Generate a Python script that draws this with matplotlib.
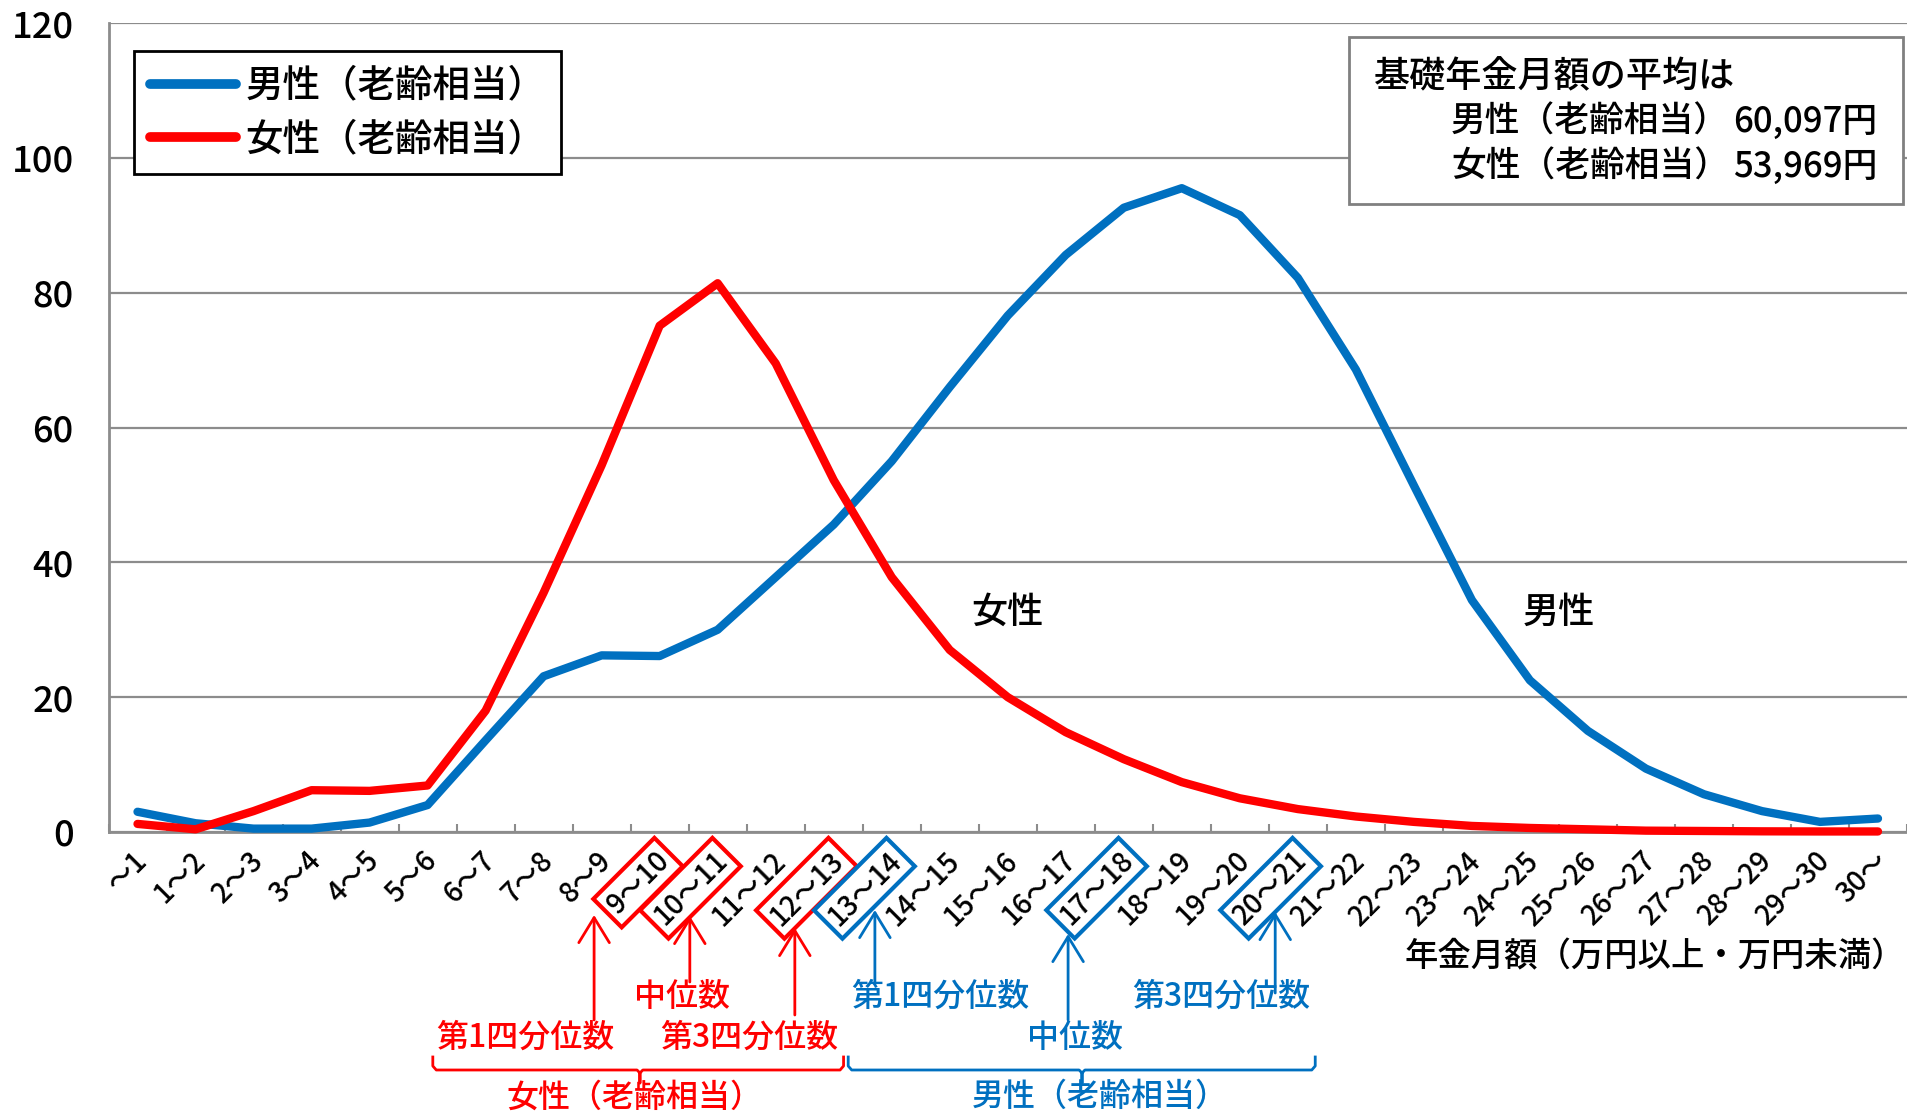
# -*- coding: UTF-8 -*-
# 基礎年金月額の分布（男性・女性 老齢相当）
import numpy as np
import matplotlib.pyplot as plt
import matplotlib.transforms as mtransforms
from matplotlib.patches import Rectangle

plt.rcParams['font.family'] = ['Noto Sans CJK JP', 'DejaVu Sans']
plt.rcParams['font.weight'] = 'medium'

# ---- data -------------------------------------------------------------
labels = ['～1', '1～2', '2～3', '3～4', '4～5', '5～6', '6～7', '7～8', '8～9',
          '9～10', '10～11', '11～12', '12～13', '13～14', '14～15', '15～16',
          '16～17', '17～18', '18～19', '19～20', '20～21', '21～22', '22～23',
          '23～24', '24～25', '25～26', '26～27', '27～28', '28～29', '29～30',
          '30～']

male = [3.0, 1.3, 0.5, 0.5, 1.4, 4.0, 13.6, 23.1, 26.2, 26.1, 30.0,
        37.8, 45.6, 55.0, 66.0, 76.6, 85.6, 92.6, 95.5, 91.5, 82.2,
        68.6, 51.4, 34.4, 22.5, 15.0, 9.4, 5.6, 3.1, 1.5, 2.0]

female = [1.2, 0.4, 3.1, 6.2, 6.1, 6.9, 18.0, 35.5, 54.4, 75.1, 81.4,
          69.5, 52.2, 37.8, 27.0, 20.0, 14.8, 10.8, 7.4, 5.0, 3.4,
          2.3, 1.5, 0.9, 0.6, 0.4, 0.2, 0.15, 0.1, 0.08, 0.08]

male_name = '男性（老齢相当）'
female_name = '女性（老齢相当）'
male_avg = '60,097円'
female_avg = '53,969円'

female_box = [9, 10, 12]     # 第1四分位・中位・第3四分位
male_box = [13, 17, 20]

BLUE = '#0070C0'
RED = '#FF0000'
GRAY = '#8c8c8c'

W, H = 1907, 1112


def fy(py):
    '画素のy座標 -> figure fraction'
    return 1 - py / H


fig = plt.figure(figsize=(W / 100, H / 100), dpi=100)
ax = fig.add_axes([108.5 / W, fy(832), (W - 108.5) / W, (832 - 23) / H])

x = np.arange(len(labels))
ax.plot(x, male, color=BLUE, lw=6, label=male_name,
        solid_capstyle='round', solid_joinstyle='round', clip_on=False,
        zorder=3)
ax.plot(x, female, color=RED, lw=6, label=female_name,
        solid_capstyle='round', solid_joinstyle='round', clip_on=False,
        zorder=3)

ax.set_xlim(-0.5, len(labels) - 0.5)
ax.set_ylim(0, 120)
ax.set_yticks(range(0, 121, 20))
ax.yaxis.grid(True, color=GRAY, lw=1.6)
ax.set_axisbelow(True)
ax.tick_params(axis='y', length=0, pad=25, labelsize=26)
ax.set_xticks(np.arange(-0.5, len(labels), 1))
ax.tick_params(axis='x', direction='in', length=6, width=1.5,
               color=GRAY, labelbottom=False)
for s in ['top', 'right']:
    ax.spines[s].set_visible(False)
for s in ['left', 'bottom']:
    ax.spines[s].set_color(GRAY)
    ax.spines[s].set_linewidth(2)

# x 軸ラベル（45度回転）
trans = mtransforms.blended_transform_factory(ax.transData, ax.transAxes)
off = mtransforms.ScaledTranslation(0.05, -0.24, fig.dpi_scale_trans)
for i, lab in enumerate(labels):
    t = ax.text(i, 0, lab, transform=trans + off, rotation=45,
                rotation_mode='anchor', ha='right', va='center',
                fontsize=20, clip_on=False)
    if i in female_box:
        t.set_bbox(dict(boxstyle='square,pad=0.2', fc='none', ec=RED, lw=3))
    if i in male_box:
        t.set_bbox(dict(boxstyle='square,pad=0.2', fc='none', ec=BLUE, lw=3))

# 凡例
leg = ax.legend(loc='upper left', bbox_to_anchor=(134 / W, fy(51)),
                bbox_transform=fig.transFigure, borderaxespad=0,
                fontsize=27, fancybox=False, framealpha=1,
                edgecolor='black', handlelength=2.3, handletextpad=0.25,
                borderpad=0.42, labelspacing=0.42)
leg.get_frame().set_linewidth(2)
for ln in leg.get_lines():
    ln.set_linewidth(7)
    ln.set_solid_capstyle('round')

# 平均の枠
fig.add_artist(Rectangle((1349 / W, fy(204)), (1903 - 1349) / W,
                         (204 - 36.5) / H, transform=fig.transFigure,
                         fc='white', ec='#808080', lw=2))
fig.text(1374 / W, fy(77), '基礎年金月額の平均は', va='center', fontsize=26)
fig.text(1451 / W, fy(122), male_name, va='center', fontsize=25)
fig.text(1877 / W, fy(122), male_avg, ha='right', va='center', fontsize=25)
fig.text(1451 / W, fy(167), female_name, va='center', fontsize=25)
fig.text(1877 / W, fy(167), female_avg, ha='right', va='center', fontsize=25)

# グラフ内ラベル
ax.text(15.0, 32.5, '女性', ha='center', va='center', fontsize=26)
ax.text(24.5, 32.5, '男性', ha='center', va='center', fontsize=26)

fig.text(1905 / W, fy(957), '年金月額（万円以上・万円未満）', ha='right',
         va='center', fontsize=24)

# 四分位の矢印と説明
mix = ('data', 'figure fraction')
arrows = [(7.87, 915, 1020, RED), (9.52, 916, 982, RED),
          (11.33, 928, 1015, RED), (12.71, 910, 984, BLUE),
          (16.04, 934, 1020, BLUE), (19.61, 912, 993, BLUE)]
for ax_x, tip, tail, c in arrows:
    ax.annotate('', xy=(ax_x, fy(tip)), xycoords=mix,
                xytext=(ax_x, fy(tail)), textcoords=mix,
                arrowprops=dict(arrowstyle='->,head_length=1.8,head_width=1.1',
                                color=c, lw=2, shrinkA=0, shrinkB=0))

notes = [(6.68, 1038, '第1四分位数', RED), (9.38, 997, '中位数', RED),
         (10.54, 1038, '第3四分位数', RED), (13.83, 997, '第1四分位数', BLUE),
         (16.16, 1038, '中位数', BLUE), (18.68, 997, '第3四分位数', BLUE),
         (8.56, 1098, female_name, RED), (16.59, 1097, male_name, BLUE)]
for nx, ny, s, c in notes:
    ax.annotate(s, xy=(nx, fy(ny)), xycoords=mix, ha='center', va='center',
                fontsize=23, color=c, annotation_clip=False)

# 括弧
btrans = mtransforms.blended_transform_factory(ax.transData, fig.transFigure)
for x0, x1, xc, c in [(5.09, 12.17, 8.66, RED), (12.25, 20.30, 16.28, BLUE)]:
    bx = [x0, x0, x0 + 0.06, xc - 0.05, xc, xc, xc, xc + 0.05, x1 - 0.06,
          x1, x1]
    by = [1057, 1066, 1070, 1070, 1073, 1083, 1073, 1070, 1070, 1066, 1057]
    ax.plot(bx, [fy(v) for v in by], color=c, lw=2, transform=btrans,
            clip_on=False)

fig.savefig('out.png', dpi=100)
